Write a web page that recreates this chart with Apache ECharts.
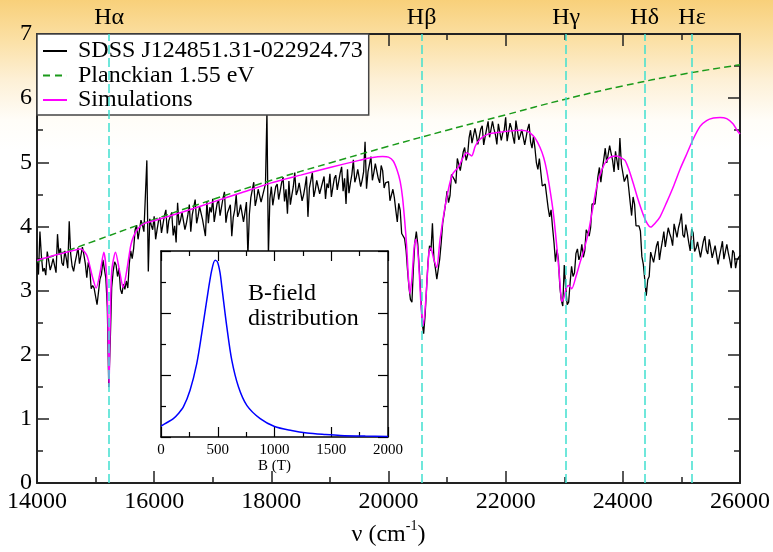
<!DOCTYPE html>
<html><head><meta charset="utf-8">
<script src="https://cdn.jsdelivr.net/npm/echarts@6/dist/echarts.min.js"></script>
<style>
html,body{margin:0;padding:0;background:#fff;}
#c{width:773px;height:552px;background:linear-gradient(to bottom,#f8d07a 0px,#fbe0a5 40px,#fdf0d6 80px,#fffdf8 120px,#ffffff 150px);}
</style></head><body><div id="c"></div>
<script>
// Observed spectrum: flux sampled at 14000 + 50*i (A) and 14025 + 50*i (B) cm^-1
const specStart = 14000, specStep = 50, specHalf = 25;
const specFluxA = [
3.50,3.92,3.30,3.24,3.58,3.40,3.53,3.88,3.66,3.39,3.50,4.08,3.38,3.44,3.67,3.41,3.56,3.20,3.34,3.08,
3.05,2.80,3.25,3.45,2.75,2.20,3.30,3.40,3.35,2.95,3.02,3.04,3.62,3.66,4.02,3.83,4.02,3.92,3.30,4.02,
4.16,3.95,4.14,3.92,4.26,4.09,4.22,4.01,4.37,4.10,4.22,4.05,4.34,4.18,4.42,4.16,4.32,4.09,4.39,4.30,
4.43,4.22,4.41,4.19,4.54,4.21,4.34,4.14,4.49,4.22,4.34,4.22,3.55,4.45,4.69,4.43,4.59,4.36,4.66,3.55,
4.62,4.48,4.66,4.43,4.77,4.58,4.71,4.49,4.84,4.56,4.67,4.49,4.78,4.60,4.84,4.57,4.72,4.48,4.78,4.67,
4.82,4.61,4.80,4.58,4.93,4.75,4.89,4.68,5.04,4.77,4.88,4.72,5.32,4.85,5.09,4.84,4.99,4.68,4.87,4.68,
4.70,4.38,4.45,4.07,4.25,3.86,3.63,3.05,2.82,3.75,3.72,2.95,2.33,3.05,3.70,4.05,3.35,3.15,3.75,4.20,
4.55,4.48,4.80,4.67,5.07,5.01,5.23,5.11,5.50,5.27,5.42,5.26,5.57,5.40,5.64,5.38,5.52,5.28,5.57,5.46,
5.70,5.36,5.53,5.29,5.62,5.42,5.53,5.29,5.60,5.22,5.22,4.89,5.04,4.66,4.67,4.15,3.99,3.45,3.49,2.85,
3.40,2.78,3.12,3.22,3.58,3.48,3.72,3.62,3.98,3.98,4.37,4.55,4.92,4.89,5.22,5.00,5.14,4.85,5.14,5.38,
5.00,4.68,4.60,4.17,4.35,4.01,3.93,3.41,2.92,3.22,3.57,3.44,3.77,3.64,3.92,3.70,3.89,3.70,4.04,3.98,
4.20,3.83,3.90,3.62,3.90,3.66,3.78,3.54,3.85,3.57,3.67,3.49,3.72,3.54,3.77,3.50,3.59,3.35,3.59,3.48,
3.55
];
const specFluxB = [
3.25,3.54,3.35,3.61,3.32,3.50,3.28,3.56,3.43,3.62,3.35,3.57,3.30,3.55,3.42,3.68,3.42,3.44,3.03,3.04,
2.78,3.18,3.48,3.20,1.50,3.05,3.45,3.22,3.02,3.10,3.15,3.42,3.50,3.95,3.80,4.10,3.92,5.03,4.12,3.95,
3.80,4.09,3.90,4.17,3.89,4.07,3.86,3.75,4.02,4.22,3.95,4.18,3.92,4.17,4.05,4.31,4.11,3.85,4.05,4.22,
4.07,4.36,4.17,4.44,4.06,4.20,3.85,4.26,4.15,4.34,4.07,4.38,4.19,4.44,4.32,4.58,4.38,4.57,5.79,4.43,
4.33,4.62,4.42,4.68,4.39,4.20,4.34,4.62,4.49,4.68,4.40,4.62,4.15,4.60,4.46,4.72,4.51,4.69,4.43,4.60,
4.46,4.75,4.57,4.83,4.55,4.35,4.52,4.81,4.69,4.89,4.62,4.85,4.59,4.84,4.72,4.98,4.75,4.95,4.60,4.67,
4.40,4.58,4.25,4.36,3.89,3.81,3.32,2.86,3.35,3.92,3.35,2.50,2.62,3.45,3.62,3.50,3.18,3.50,4.05,4.36,
4.37,4.81,4.73,5.06,4.87,5.16,5.03,5.38,5.30,5.53,5.28,5.52,5.27,5.52,5.39,5.64,5.43,5.60,5.34,5.50,
5.33,5.61,5.40,5.65,5.35,5.51,5.27,5.52,5.32,5.40,4.99,5.06,4.63,4.66,4.29,4.26,3.75,3.64,3.06,2.76,
3.05,2.82,3.38,3.28,3.65,3.55,3.52,3.95,3.85,4.35,4.35,4.78,4.69,5.05,4.99,5.26,5.03,5.17,4.88,4.97,
4.70,4.81,4.38,4.46,4.01,4.01,3.53,3.40,3.17,3.60,3.44,3.70,3.48,3.77,3.68,3.98,3.82,4.04,3.83,4.07,
3.87,4.03,3.75,3.96,3.61,3.76,3.52,3.77,3.63,3.80,3.51,3.70,3.41,3.65,3.49,3.72,3.48,3.63,3.35,3.49
];
// Simulation
const simNu = [14000,14300,14600,14750,14850,14950,15010,15080,15140,15190,15215,15230,15245,15275,15340,15410,15470,15530,15600,15650,
15720,15815,16000,16500,17000,17500,18000,18500,19000,19500,19700,19900,20000,20080,20150,20200,20240,20280,20310,20340,
20367,20400,20440,20470,20510,20560,20595,20640,20690,20721,20770,20823,20880,20965,21040,21096,21150,21192,21260,21335,
21420,21480,21562,21700,21900,22100,22245,22350,22416,22500,22587,22650,22701,22760,22815,22850,22883,22920,22958,22990,
23030,23070,23100,23128,23200,23270,23340,23411,23480,23554,23640,23725,23810,23896,23970,24037,24110,24179,24260,24350,
24420,24476,24550,24635,24750,24862,24980,25091,25200,25318,25430,25546,25660,25773,25880,25950,26000];
const simFlux = [3.47,3.55,3.62,3.65,3.55,3.20,3.04,3.30,3.60,3.20,2.30,1.50,2.30,3.30,3.60,3.30,3.05,3.30,3.70,3.85,
3.96,4.04,4.09,4.23,4.38,4.53,4.68,4.80,4.92,5.03,5.07,5.09,5.08,5.02,4.87,4.70,4.45,4.05,3.69,3.20,
2.95,3.20,3.70,3.80,3.50,2.70,2.46,2.90,3.60,3.67,3.50,3.36,3.80,4.31,4.65,4.82,4.88,4.92,5.05,5.15,
5.10,5.25,5.36,5.44,5.47,5.49,5.50,5.49,5.46,5.38,5.23,5.07,4.87,4.55,4.20,3.90,3.59,3.20,2.83,2.88,
3.03,3.08,3.06,3.03,3.22,3.44,3.65,3.90,4.25,4.62,4.88,5.03,5.09,5.10,5.07,5.03,4.87,4.67,4.42,4.18,
4.04,3.99,4.05,4.15,4.38,4.62,4.90,5.13,5.36,5.56,5.65,5.69,5.70,5.68,5.60,5.50,5.44];
// Planckian
const planckNu = [14000,15000,16000,17000,18000,19000,20000,21000,22000,23000,24000,25000,26000];
const planckFlux = [3.45,3.78,4.11,4.42,4.72,4.99,5.25,5.50,5.74,5.98,6.19,6.37,6.52];
// Balmer lines
const lineNames = ['Hα','Hβ','Hγ','Hδ','Hε'];
const lineNu = [15233,20565,23032,24373,25181];
// Inset: B-field distribution
const bField = [0,50,109,150,197,256,315,359,403,447,477,497,520,536,580,624,683,756,874,1000,1150,1286,1450,1580,1800,2000];
const bDist = [0.35,0.46,0.59,0.74,0.97,1.51,2.37,3.34,4.41,5.38,5.70,5.65,5.30,4.84,3.55,2.47,1.61,1.02,0.59,0.34,0.21,0.13,0.08,0.05,0.03,0.02];

const SERIF = "'Liberation Serif','Times New Roman',serif";
const AX = '#222';
const names = ['SDSS J124851.31-022924.73','Planckian 1.55 eV','Simulations'];
const plain = v => String(v);

const specData = [];
specFluxA.forEach((v,i)=>{
  specData.push([specStart+i*specStep, v]);
  if (i < specFluxB.length) specData.push([specStart+specHalf+i*specStep, specFluxB[i]]);
});

function mainX(pos, labels){
  return {type:'value', gridIndex:0, position:pos, min:14000, max:26000, interval:2000,
    axisLine:{onZero:false, lineStyle:{color:AX, width:2}},
    axisTick:{inside:true, length:12, lineStyle:{color:AX, width:1.5}},
    minorTick:{show:true, splitNumber:2, length:6, lineStyle:{color:AX, width:1.5}},
    splitLine:{show:false}, minorSplitLine:{show:false},
    axisLabel:{show:labels, margin:7, fontSize:24, fontFamily:SERIF, color:'#000', showMinLabel:true, showMaxLabel:true, formatter:plain}};
}
function mainY(pos, labels){
  return {type:'value', gridIndex:0, position:pos, min:0, max:7, interval:1,
    axisLine:{onZero:false, show:true, lineStyle:{color:AX, width:2}},
    axisTick:{show:true, inside:true, length:12, lineStyle:{color:AX, width:1.5}},
    minorTick:{show:true, splitNumber:2, length:6, lineStyle:{color:AX, width:1.5}},
    splitLine:{show:false}, minorSplitLine:{show:false},
    axisLabel:{show:labels, margin:5, fontSize:24, fontFamily:SERIF, color:'#000', formatter:plain}};
}
function insetX(pos, labels){
  return {type:'value', gridIndex:1, position:pos, min:0, max:2000, interval:500, zlevel:1,
    axisLine:{onZero:false, lineStyle:{color:'#000', width:1.5}},
    axisTick:{inside:true, length:10, lineStyle:{color:'#000', width:1.2}},
    minorTick:{show:true, splitNumber:2, length:5, lineStyle:{color:'#000', width:1.2}},
    splitLine:{show:false}, minorSplitLine:{show:false},
    axisLabel:{show:labels, margin:6, fontSize:15, fontFamily:SERIF, color:'#000', showMinLabel:true, showMaxLabel:true, formatter:plain}};
}
function insetY(pos){
  return {type:'value', gridIndex:1, position:pos, min:0, max:6, interval:2, zlevel:1,
    axisLine:{onZero:false, show:true, lineStyle:{color:'#000', width:1.5}},
    axisTick:{show:true, inside:true, length:10, lineStyle:{color:'#000', width:1.2}},
    minorTick:{show:true, splitNumber:2, length:5, lineStyle:{color:'#000', width:1.2}},
    splitLine:{show:false}, minorSplitLine:{show:false},
    axisLabel:{show:false}};
}

const xb = mainX('bottom', true);
xb.name = '{a|ν (cm}{b|-1}{a|)}';
xb.nameLocation = 'middle';
xb.nameGap = 29;
xb.nameTextStyle = {fontFamily:SERIF, color:'#000', rich:{
  a:{fontSize:24, fontFamily:SERIF, color:'#000', lineHeight:32},
  b:{fontSize:14, fontFamily:SERIF, color:'#000', lineHeight:14, verticalAlign:'top'}}};
const ixb = insetX('bottom', true);
ixb.name = 'B (T)'; ixb.nameLocation = 'middle'; ixb.nameGap = 21;
ixb.nameTextStyle = {fontSize:15, fontFamily:SERIF, color:'#000'};

const solidIcon = 'path://M0,0H24V2H0Z';
const dashIcon = 'path://M0,0H7V2H0Z M12,0H19V2H12Z M23.95,0H24V2H23.95Z';

const option = {
  animation:false,
  backgroundColor:'transparent',
  grid:[
    {left:37, right:33, top:34, bottom:62},
    {left:161, right:385, top:251, bottom:115, show:true, backgroundColor:'#fff', borderWidth:0, zlevel:1}
  ],
  title:{text:'B-field\ndistribution', left:248, top:281, padding:0, zlevel:1,
    textStyle:{fontSize:24, fontFamily:SERIF, fontWeight:'normal', color:'#000', lineHeight:25}},
  legend:{data:[{name:names[0], icon:solidIcon},{name:names[1], icon:dashIcon},{name:names[2], icon:solidIcon}],
    orient:'vertical', left:37, top:34, padding:[5,6,3,6], itemGap:0.5,
    itemWidth:24, itemHeight:2, backgroundColor:'#fff', borderColor:'#444', borderWidth:1.5,
    textStyle:{fontSize:24, fontFamily:SERIF, color:'#000', lineHeight:22, padding:[0,0,0,6]}},
  xAxis:[xb, mainX('top', false), ixb, insetX('top', false)],
  yAxis:[mainY('left', true), mainY('right', false), insetY('left'), insetY('right')],
  series:[
    {type:'line', name:'lines', xAxisIndex:0, yAxisIndex:0, data:[], silent:true,
      markLine:{silent:true, symbol:['none','none'], animation:false,
        lineStyle:{color:'#40e0d0', type:[9,4], width:1.5},
        label:{show:true, position:'end', formatter:'{b}', fontSize:24, fontFamily:SERIF, color:'#000', distance:4},
        emphasis:{disabled:true},
        data:lineNu.map((v,i)=>({xAxis:v, name:lineNames[i]}))}},
    {type:'line', name:names[0], xAxisIndex:0, yAxisIndex:0, symbol:'none', showSymbol:false,
      data:specData, lineStyle:{color:'#000', width:1.3}, itemStyle:{color:'#000'}},
    {type:'line', name:names[1], xAxisIndex:0, yAxisIndex:0, symbol:'none', showSymbol:false, smooth:true,
      data:planckNu.map((v,i)=>[v, planckFlux[i]]),
      lineStyle:{color:'#1a9a1a', type:[7,4], width:1.5}, itemStyle:{color:'#1a9a1a'}},
    {type:'line', name:names[2], xAxisIndex:0, yAxisIndex:0, symbol:'none', showSymbol:false, smooth:0.25,
      data:simNu.map((v,i)=>[v, simFlux[i]]),
      lineStyle:{color:'#ff00ff', width:1.5}, itemStyle:{color:'#ff00ff'}},
    {type:'line', name:'B', xAxisIndex:2, yAxisIndex:2, symbol:'none', showSymbol:false, smooth:0.3, zlevel:1,
      data:bField.map((v,i)=>[v, bDist[i]]),
      lineStyle:{color:'#0000ff', width:1.5}, itemStyle:{color:'#0000ff'}}
  ]
};
const chart = echarts.init(document.getElementById('c'), null, {renderer:'canvas'});
chart.setOption(option);
</script></body></html>
